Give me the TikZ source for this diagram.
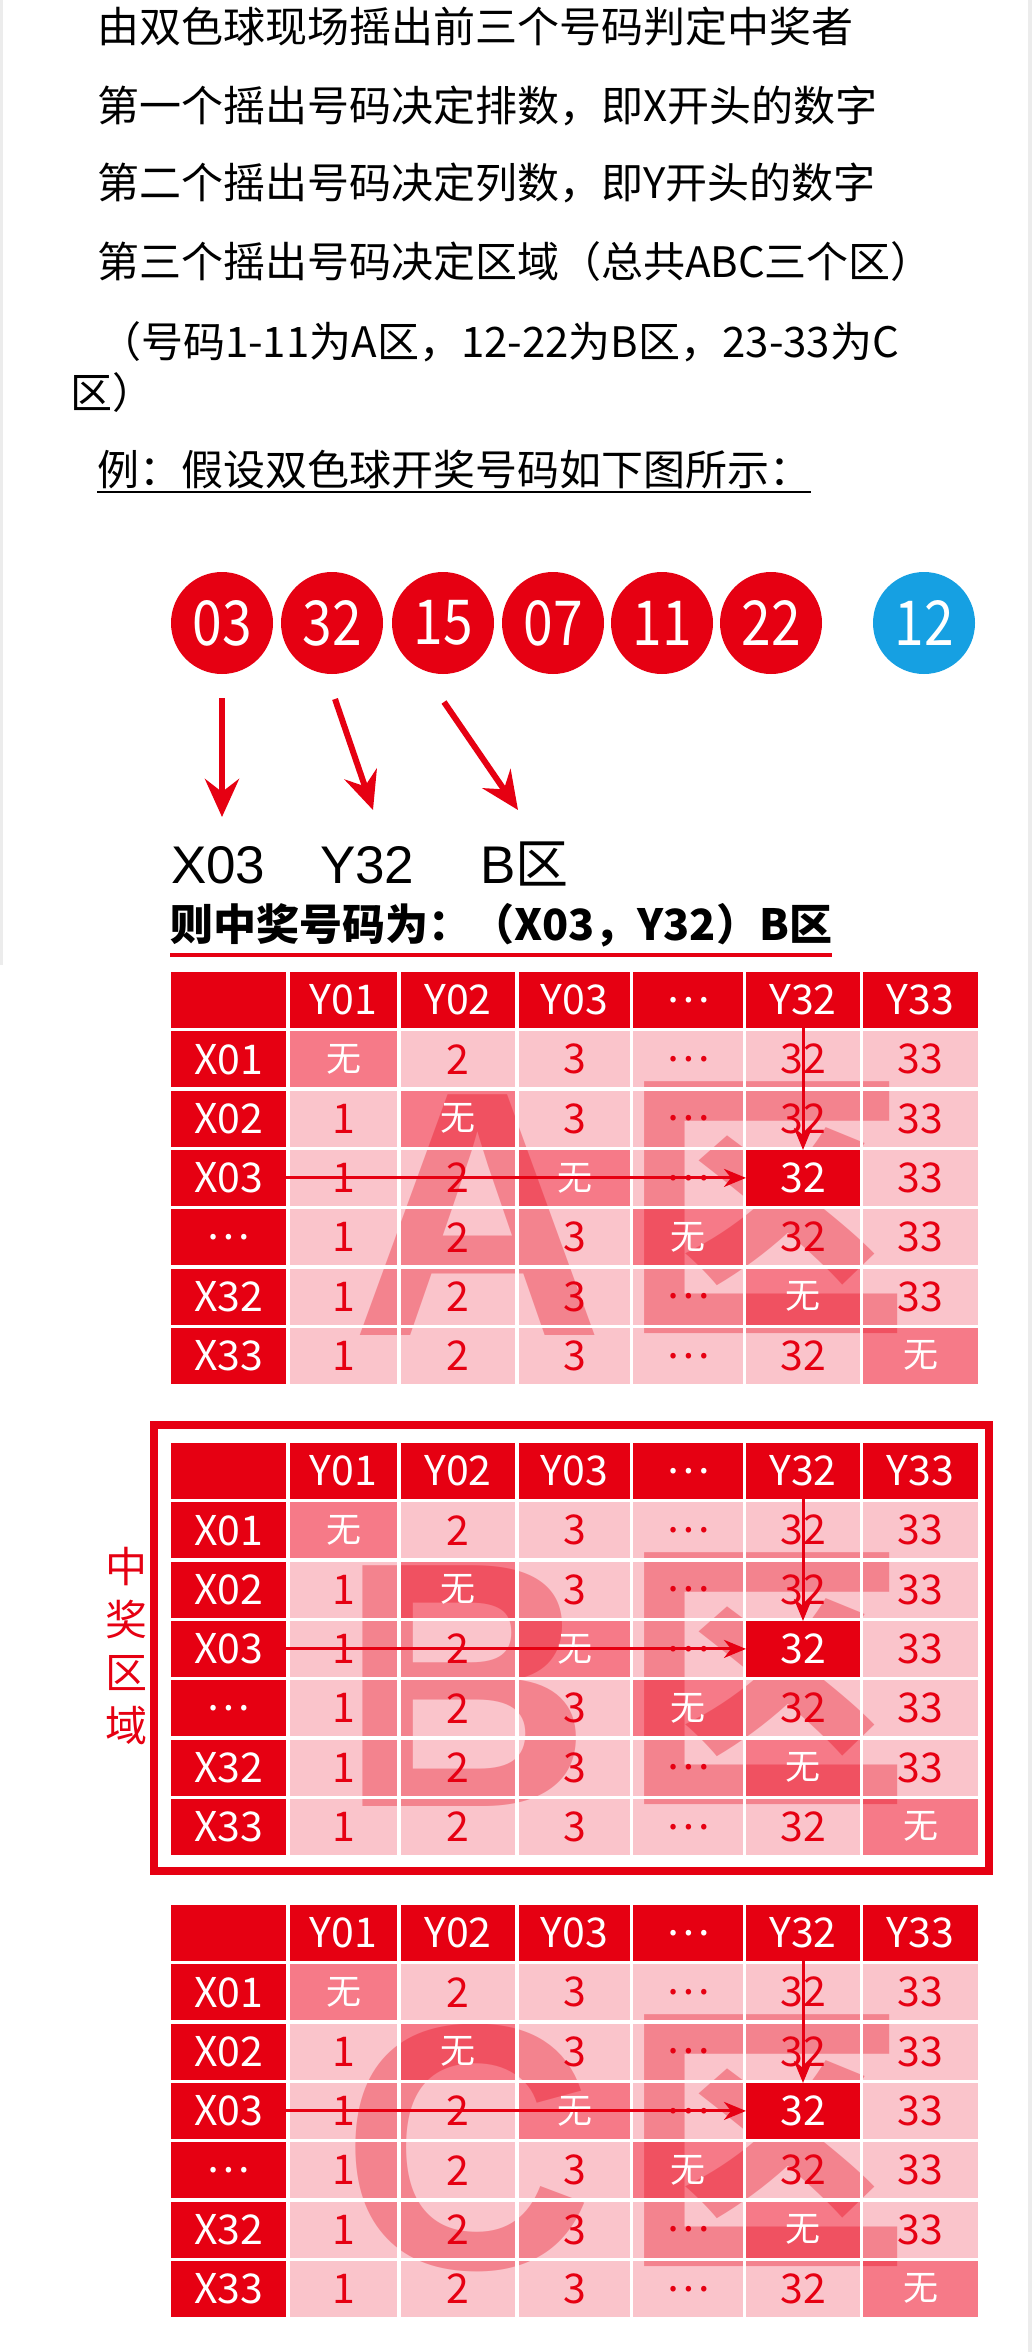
\documentclass[tikz,border=0pt]{standalone}
\usepackage{fontspec}
\setmainfont{Noto Sans CJK SC}
\newfontfamily\lib{Liberation Sans}
\newfontfamily\cond[FakeStretch=0.86]{Noto Sans CJK SC}
\usetikzlibrary{arrows.meta}
\definecolor{cred}{RGB}{230,0,18}
\definecolor{cpink}{RGB}{250,196,203}
\definecolor{cmid}{RGB}{246,122,136}
\definecolor{cblue}{RGB}{22,160,226}
\definecolor{cgray}{RGB}{236,236,236}
\def\xl{{171,290,401,519,633,746,863}}
\def\xr{{286,397,515,630,743,860,978}}
\newcommand\colname[1]{\ifcase#1\or Y01\or Y02\or Y03\or …\or Y32\or Y33\fi}
\newcommand\rowname[1]{\ifcase#1\or X01\or X02\or X03\or …\or X32\or X33\fi}
\newcommand\dataval[1]{\ifcase#1\or 1\or 2\or 3\or …\or 32\or 33\fi}
\newcommand\cellcontent[2]{\ifnum#1=0 \colname{#2}\else\ifnum#2=0 \rowname{#1}\else\ifnum#1=#2 {\fontsize{35}{35}\selectfont 无}\else\dataval{#2}\fi\fi\fi}
\newcommand\drawtable[4]{%
  \foreach \ri in {0,...,6}{
    \foreach \ci in {0,...,6}{
      \pgfmathsetmacro\xa{\xl[\ci]}
      \pgfmathsetmacro\xb{\xr[\ci]}
      \pgfmathsetmacro\ya{#2+59.3*\ri}
      \pgfmathsetmacro\yb{\ya+56}
      \def\fc{cpink}
      \ifnum\ri=0 \def\fc{cred}\fi
      \ifnum\ci=0 \def\fc{cred}\fi
      \ifnum\ri>0 \ifnum\ri=\ci \def\fc{cmid}\fi\fi
      \ifnum\ri=3 \ifnum\ci=5 \def\fc{cred}\fi\fi
      \fill[\fc] (\xa,\ya) rectangle (\xb,\yb);
    }
  }
  \node[wm, anchor=base] (#1-wmL) at (#4,#2+363) {#3};
  \node[wmq] (#1-wmQ) at (766,#2+236) {区};
  \foreach \ci in {1,...,5}{
    \pgfmathsetmacro\ga{\xr[\ci]}
    \pgfmathsetmacro\gb{\xl[\ci+1]}
    \fill[white] (\ga,#2+59.3) rectangle (\gb,#2+59.3*6+56);
  }
  \foreach \ri in {1,...,5}{
    \fill[white] (290,#2+59.3*\ri+56) rectangle (978,#2+59.3*\ri+59.3);
  }
  \foreach \ri in {0,...,6}{
    \foreach \ci in {0,...,6}{
      \pgfmathsetmacro\xa{\xl[\ci]}
      \pgfmathsetmacro\xb{\xr[\ci]}
      \pgfmathsetmacro\ya{#2+59.3*\ri}
      \def\tc{cred}
      \ifnum\ri=0 \def\tc{white}\fi
      \ifnum\ci=0 \def\tc{white}\fi
      \ifnum\ri>0 \ifnum\ri=\ci \def\tc{white}\fi\fi
      \ifnum\ri=3 \ifnum\ci=5 \def\tc{white}\fi\fi
      \node[cellt, minimum width={\xb-\xa}, text=\tc] (#1-\ri-\ci) at ({(\xa+\xb)/2},{\ya+28}) {\cellcontent{\ri}{\ci}};
    }
  }
  \draw[tarrow] (#1-3-0.east) -- (#1-3-5.west);
  \draw[tarrow] (#1-0-5.south) -- (#1-3-5.north);
}
\begin{document}
\begin{tikzpicture}[x=1pt,y=-1pt,
  every node/.style={inner sep=0pt, outer sep=0pt},
  para/.style={anchor=base west, font=\fontsize{42}{42}\selectfont},
  ball/.style={circle, fill=cred, minimum size=102pt, text=white, font=\cond\fontsize{62}{62}\selectfont},
  bigarrow/.style={cred, line width=6pt, -{Stealth[length=38pt, width=34pt, inset=13pt]}},
  tarrow/.style={cred, line width=3pt, -{Stealth[length=22pt, width=18pt, inset=7pt]}},
  big/.style={anchor=base west, font=\lib\fontsize{53}{53}\selectfont},
  cellt/.style={minimum height=56pt, font=\fontsize{41}{41}\selectfont},
  wm/.style={text=cred, text opacity=0.33, font=\lib\bfseries\fontsize{350}{350}\selectfont},
  wmq/.style={text=cred, text opacity=0.33, font=\bfseries\fontsize{285}{285}\selectfont}]
\useasboundingbox (0,0) rectangle (1032,2352);
\fill[white] (0,0) rectangle (1032,2352);
\fill[cgray] (0,0) rectangle (3,965);
\fill[cgray] (1028,0) rectangle (1032,2352);
% text
\node[para] (t1) at (97,43) {由双色球现场摇出前三个号码判定中奖者};
\node[para] (t2) at (97,122) {第一个摇出号码决定排数，即X开头的数字};
\node[para] (t3) at (97,199) {第二个摇出号码决定列数，即Y开头的数字};
\node[para] (t4) at (97,277) {第三个摇出号码决定区域（总共ABC三个区）};
\node[para] (t5) at (99,357) {（号码1-11为A区，12-22为B区，23-33为C};
\node[para] (t6) at (70,408) {区）};
\node[para] (t7) at (97,485) {例：假设双色球开奖号码如下图所示：};
\draw[black, line width=2.5pt] ([yshift=-7pt]t7.base west) -- ([yshift=-7pt]t7.base east);
% balls
\node[ball] (b1) at (222,623) {03};
\node[ball] (b2) at (332,623) {32};
\node[ball] (b3) at (443,623) {15};
\node[ball] (b4) at (553,623) {07};
\node[ball] (b5) at (662,623) {11};
\node[ball] (b6) at (771,623) {22};
\node[ball, fill=cblue] (b7) at (924,623) {12};
% labels
\node[big] (lx) at (171,883) {X03};
\node[big] (ly) at (320,883) {Y32};
\node[big] (lb) at (480,883) {B{\normalfont 区}};
\coordinate (a1s) at (222,698); \coordinate (a1e) at (222,817);
\coordinate (a2s) at (335,699); \coordinate (a2e) at (373,810);
\coordinate (a3s) at (444,702); \coordinate (a3e) at (518,810);
\draw[bigarrow] (a1s) -- (a1e);
\draw[bigarrow] (a2s) -- (a2e);
\draw[bigarrow] (a3s) -- (a3e);
\node[anchor=base west, font=\bfseries\fontsize{43}{43}\selectfont] (res) at (170,940) {则中奖号码为：（X03，Y32）B区};
\draw[cred, line width=4pt] ([yshift=-15pt]res.base west) -- ([yshift=-15pt]res.base east);
% tables
\drawtable{A}{972}{A}{478}
\drawtable{B}{1443}{B}{466}
\drawtable{C}{1905}{C}{468}
% winning zone frame
\draw[cred, line width=8pt] (154,1425) rectangle (989,1871);
\node[align=center, text=cred, font=\fontsize{42}{52.7}\selectfont] (lab) at (126,1646) {中\\奖\\区\\域};
\end{tikzpicture}
\end{document}
